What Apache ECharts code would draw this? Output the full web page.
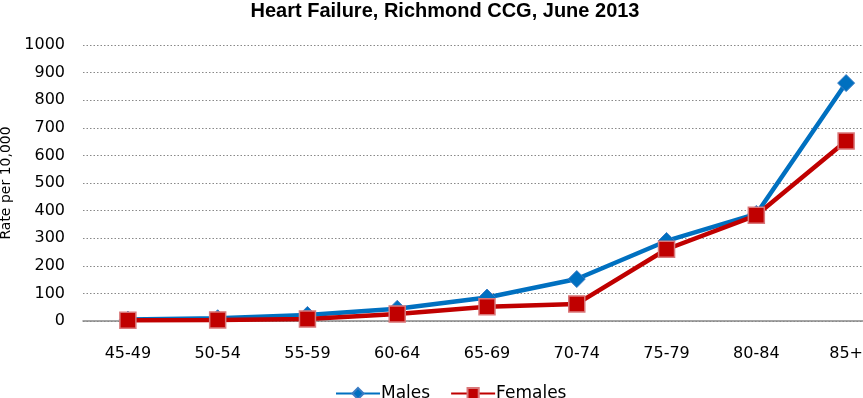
<!DOCTYPE html>
<html><head><meta charset="utf-8">
<script src="https://cdn.jsdelivr.net/npm/echarts@6/dist/echarts.min.js"></script>
<style>html,body{margin:0;padding:0;background:#fff;overflow:hidden}#c{width:863px;height:398px}</style>
</head><body><div id="c"></div>
<script>
const categories = ['45-49','50-54','55-59','60-64','65-69','70-74','75-79','80-84','85+'];
const males = [5, 10, 22, 44, 85, 152, 290, 388, 862];
const females = [3, 4, 7, 25, 52, 62, 260, 383, 652];
const yTicks = [0,100,200,300,400,500,600,700,800,900,1000];

const chart = echarts.init(document.getElementById('c'));
chart.setOption({
  animation: false,
  title: {
    text: 'Heart Failure, Richmond CCG, June 2013',
    left: 440, top: -4, textAlign: 'center',
    textStyle: {fontFamily: 'Liberation Sans, Arial', fontWeight: 'bold', fontSize: 20, color: '#000'}
  },
  legend: {
    top: 380, left: 330,
    itemWidth: 44, itemHeight: 14, itemGap: 20,
    textStyle: {fontFamily: 'DejaVu Sans', fontSize: 17, color: '#000', padding: [0,0,0,-4]},
    data: ['Males', 'Females']
  },
  grid: {left: 83, width: 808, top: 45, bottom: 77, outerBoundsMode: 'none', containLabel: false},
  xAxis: {
    type: 'category', data: categories, boundaryGap: true,
    axisLine: {lineStyle: {color: '#888', width: 1.5}},
    axisTick: {show: false},
    axisLabel: {margin: 25, fontFamily: 'DejaVu Sans', fontSize: 16, color: '#000'}
  },
  yAxis: {
    type: 'value', min: 0, max: 1000, interval: 100,
    name: 'Rate per 10,000', nameLocation: 'middle', nameGap: 66, nameRotate: 90,
    nameTextStyle: {fontFamily: 'DejaVu Sans', fontSize: 14, color: '#000'},
    axisLine: {show: false}, axisTick: {show: false},
    axisLabel: {margin: 18, fontFamily: 'DejaVu Sans', fontSize: 16, color: '#000',
      formatter: v => yTicks.includes(v) ? String(v) : ''},
    splitLine: {lineStyle: {color: '#888', type: [1.5, 2], width: 1}}
  },
  series: [
    {name: 'Males', type: 'line', data: males, symbol: 'diamond', symbolSize: 17,
     lineStyle: {color: '#0070C0', width: 4.5}, itemStyle: {color: '#0070C0', borderColor: '#3a7cc4', borderWidth: 1}, z: 2},
    {name: 'Females', type: 'line', data: females, symbol: 'rect', symbolSize: 16,
     lineStyle: {color: '#C00000', width: 4.5}, itemStyle: {color: '#C00000', borderColor: '#d9787a', borderWidth: 1.5}, z: 3}
  ]
});
</script></body></html>
